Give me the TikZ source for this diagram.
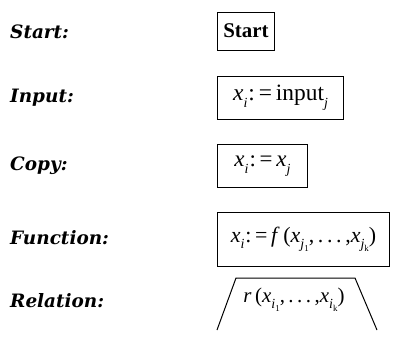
\documentclass[tikz,border=0pt]{standalone}
\usepackage{fontspec}
\setmainfont{Liberation Serif}
\newfontfamily\labfont{DejaVu Serif}
\newcommand\mysb[1]{\raisebox{-0.28em}{\fontsize{14}{14}\selectfont\itshape #1}}
\newcommand\mysbb[1]{\raisebox{-0.22em}{\fontsize{9}{9}\selectfont\upshape #1}}
\newcommand\myas{\kern1pt:\,=\,}
\tikzset{
  lab/.style={anchor=west, inner sep=0pt, font=\labfont\fontsize{18.5}{20}\selectfont\bfseries\itshape},
  box/.style={draw, line width=1bp, anchor=west, inner sep=0pt, font=\fontsize{22}{24}\selectfont},
}
\begin{document}
\begin{tikzpicture}[x=1bp,y=-1bp]
\useasboundingbox (0,0) rectangle (395,337);
\node[lab] (l1) at (10,32) {Start:};
\node[lab] (l2) at (10,98) {Input:};
\node[lab] (l3) at (10,166) {Copy:};
\node[lab] (l4) at (10,238) {Function:};
\node[lab] (l5) at (10,301) {Relation:};

\node[box, minimum width=57bp, minimum height=38bp, font=\fontsize{21}{23}\selectfont] (b1) at (217,31) {\textbf{Start}};
\node[box, minimum width=126bp, minimum height=43bp, font=\fontsize{23.5}{25}\selectfont] (b2) at (217,98) {\textit{x}\mysb{i}\myas input\mysb{j}};
\node[box, minimum width=90bp, minimum height=43bp, font=\fontsize{23}{25}\selectfont] (b3) at (217,166) {\textit{x}\mysb{i}\myas\textit{x}\mysb{j}};
\node[box, minimum width=172bp, minimum height=54bp] (b4) at (217,239) {\textit{x}\mysb{i}\myas\textit{f}\,(\textit{x}\mysb{j\mysbb{1}},\,.\,.\,.\,,\textit{x}\mysb{j\mysbb{k}})};

\coordinate (t1) at (236,278);
\coordinate (t2) at (355,278);
\coordinate (t3) at (217,330);
\coordinate (t4) at (377,330);
\draw[line width=1bp] (t3) -- (t1) -- (t2) -- (t4);
\node[inner sep=0pt, font=\fontsize{21}{24}\selectfont] (b5) at (294,300) {\textit{r}\,(\textit{x}\mysb{i\mysbb{1}},\,.\,.\,.\,,\textit{x}\mysb{i\mysbb{k}})};
\end{tikzpicture}
\end{document}
